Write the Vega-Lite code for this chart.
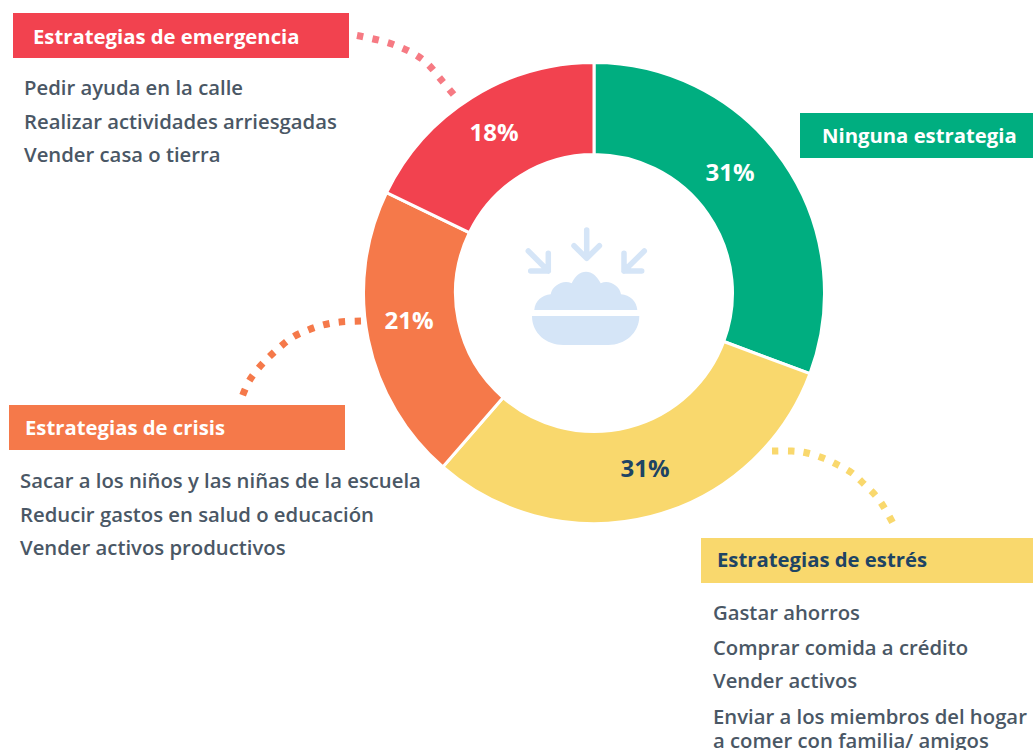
{
  "$schema": "https://vega.github.io/schema/vega-lite/v6.json",
  "width": 1033,
  "height": 750,
  "padding": 0,
  "autosize": {"type": "none"},
  "background": "white",
  "config": {"view": {"stroke": null}},
  "datasets": {
    "sectores": [
      {"grupo": "Ninguna estrategia", "porcentaje": 31, "orden": 1},
      {"grupo": "Estrategias de estrés", "porcentaje": 31, "orden": 2},
      {"grupo": "Estrategias de crisis", "porcentaje": 21, "orden": 3},
      {"grupo": "Estrategias de emergencia", "porcentaje": 18, "orden": 4}
    ],
    "cajas": [
      {"grupo": "Ninguna estrategia", "x": 800, "x2": 1033, "y": 113, "y2": 158},
      {"grupo": "Estrategias de estrés", "x": 701, "x2": 1033, "y": 538, "y2": 583},
      {"grupo": "Estrategias de crisis", "x": 9, "x2": 345, "y": 405, "y2": 450},
      {"grupo": "Estrategias de emergencia", "x": 13, "x2": 349, "y": 13, "y2": 58}
    ],
    "guias": [
      {"grupo": "Estrategias de emergencia", "n": 1, "x": 357, "y": 35.5},
      {"grupo": "Estrategias de emergencia", "n": 2, "x": 392, "y": 44},
      {"grupo": "Estrategias de emergencia", "n": 3, "x": 422, "y": 59},
      {"grupo": "Estrategias de emergencia", "n": 4, "x": 443, "y": 82},
      {"grupo": "Estrategias de emergencia", "n": 5, "x": 458, "y": 100},
      {"grupo": "Estrategias de crisis", "n": 1, "x": 361, "y": 321},
      {"grupo": "Estrategias de crisis", "n": 2, "x": 340, "y": 322},
      {"grupo": "Estrategias de crisis", "n": 3, "x": 323, "y": 325},
      {"grupo": "Estrategias de crisis", "n": 4, "x": 308, "y": 330},
      {"grupo": "Estrategias de crisis", "n": 5, "x": 293, "y": 337},
      {"grupo": "Estrategias de crisis", "n": 6, "x": 280, "y": 347},
      {"grupo": "Estrategias de crisis", "n": 7, "x": 268, "y": 358},
      {"grupo": "Estrategias de crisis", "n": 8, "x": 257, "y": 370},
      {"grupo": "Estrategias de crisis", "n": 9, "x": 248, "y": 383},
      {"grupo": "Estrategias de crisis", "n": 10, "x": 240, "y": 402},
      {"grupo": "Estrategias de estrés", "n": 1, "x": 772, "y": 451},
      {"grupo": "Estrategias de estrés", "n": 2, "x": 792, "y": 451},
      {"grupo": "Estrategias de estrés", "n": 3, "x": 807, "y": 453},
      {"grupo": "Estrategias de estrés", "n": 4, "x": 823, "y": 458},
      {"grupo": "Estrategias de estrés", "n": 5, "x": 838, "y": 465},
      {"grupo": "Estrategias de estrés", "n": 6, "x": 852, "y": 473},
      {"grupo": "Estrategias de estrés", "n": 7, "x": 864, "y": 484},
      {"grupo": "Estrategias de estrés", "n": 8, "x": 876, "y": 496},
      {"grupo": "Estrategias de estrés", "n": 9, "x": 885, "y": 509},
      {"grupo": "Estrategias de estrés", "n": 10, "x": 895, "y": 527}
    ],
    "textos": [
      {"tipo": "valor", "grupo": "Ninguna estrategia", "texto": "31%", "x": 730, "y": 173},
      {"tipo": "valor", "grupo": "Estrategias de estrés", "texto": "31%", "x": 645, "y": 469},
      {"tipo": "valor", "grupo": "Estrategias de crisis", "texto": "21%", "x": 409, "y": 321},
      {"tipo": "valor", "grupo": "Estrategias de emergencia", "texto": "18%", "x": 494, "y": 133},
      {"tipo": "cabecera", "grupo": "Estrategias de emergencia", "texto": "Estrategias de emergencia", "x": 33, "y": 36},
      {"tipo": "cabecera", "grupo": "Ninguna estrategia", "texto": "Ninguna estrategia", "x": 822, "y": 135},
      {"tipo": "cabecera", "grupo": "Estrategias de crisis", "texto": "Estrategias de crisis", "x": 25, "y": 427},
      {"tipo": "cabecera", "grupo": "Estrategias de estrés", "texto": "Estrategias de estrés", "x": 717, "y": 559},
      {"tipo": "detalle", "grupo": "Estrategias de emergencia", "texto": "Pedir ayuda en la calle", "x": 24, "y": 88},
      {"tipo": "detalle", "grupo": "Estrategias de emergencia", "texto": "Realizar actividades arriesgadas", "x": 24, "y": 122},
      {"tipo": "detalle", "grupo": "Estrategias de emergencia", "texto": "Vender casa o tierra", "x": 24, "y": 155},
      {"tipo": "detalle", "grupo": "Estrategias de crisis", "texto": "Sacar a los niños y las niñas de la escuela", "x": 20, "y": 481},
      {"tipo": "detalle", "grupo": "Estrategias de crisis", "texto": "Reducir gastos en salud o educación", "x": 20, "y": 515},
      {"tipo": "detalle", "grupo": "Estrategias de crisis", "texto": "Vender activos productivos", "x": 20, "y": 548},
      {"tipo": "detalle", "grupo": "Estrategias de estrés", "texto": "Gastar ahorros", "x": 713, "y": 613},
      {"tipo": "detalle", "grupo": "Estrategias de estrés", "texto": "Comprar comida a crédito", "x": 713, "y": 648},
      {"tipo": "detalle", "grupo": "Estrategias de estrés", "texto": "Vender activos", "x": 713, "y": 681},
      {"tipo": "detalle", "grupo": "Estrategias de estrés", "texto": "Enviar a los miembros del hogar", "x": 713, "y": 717},
      {"tipo": "detalle", "grupo": "Estrategias de estrés", "texto": "a comer con familia/ amigos", "x": 713, "y": 741}
    ]
  },
  "encoding": {},
  "layer": [
    {
      "data": {"name": "cajas"},
      "mark": {"type": "rect"},
      "encoding": {
        "x": {"field": "x", "type": "quantitative", "axis": null, "scale": {"domain": [0, 1033], "nice": false, "zero": false}},
        "x2": {"field": "x2"},
        "y": {"field": "y", "type": "quantitative", "axis": null, "scale": {"domain": [0, 750], "reverse": true, "nice": false, "zero": false}},
        "y2": {"field": "y2"},
        "color": {"field": "grupo", "type": "nominal", "legend": null, "scale": {"domain": ["Ninguna estrategia", "Estrategias de estrés", "Estrategias de crisis", "Estrategias de emergencia"], "range": ["#00ae80", "#f9d86d", "#f5794a", "#f2424f"]}}
      }
    },
    {
      "data": {"name": "guias"},
      "mark": {"type": "line", "strokeWidth": 7, "strokeDash": [6.5, 9.3], "interpolate": "cardinal"},
      "encoding": {
        "x": {"field": "x", "type": "quantitative"},
        "y": {"field": "y", "type": "quantitative"},
        "order": {"field": "n", "type": "quantitative"},
        "color": {"field": "grupo", "type": "nominal", "legend": null},
        "detail": {"field": "grupo"},
        "opacity": {"condition": {"test": "datum.grupo === 'Estrategias de emergencia'", "value": 0.7}, "value": 1}
      }
    },
    {
      "data": {"name": "sectores"},
      "mark": {"type": "arc", "outerRadius": 230.5, "innerRadius": 138.5, "stroke": "white", "strokeWidth": 3},
      "encoding": {
        "x": {"datum": 594, "type": "quantitative"},
        "y": {"datum": 293, "type": "quantitative"},
        "theta": {"field": "porcentaje", "type": "quantitative", "stack": true},
        "order": {"field": "orden", "type": "quantitative"},
        "color": {"field": "grupo", "type": "nominal", "legend": null}
      }
    },
    {
      "data": {"values": [{"pieza": "arroz"}]},
      "mark": {"type": "point", "filled": true, "opacity": 1, "size": 4, "color": "#d5e5f7",
        "shape": "M534.3 310C535 301 542 295 550.7 294.3C552 286 563 279 571.7 283.3C575 276 580 271.7 586 271.7C592 271.7 597 276 600.7 283.3C609 279 620 286 621 294.3C630 295 636.5 301 637.3 310ZM532 316H639.3C639.3 333 625 345 608.3 345H563.3C546 345 532 333 532 316Z"},
      "encoding": {
        "x": {"datum": 0, "type": "quantitative"},
        "y": {"datum": 0, "type": "quantitative"}
      }
    },
    {
      "data": {"values": [{"pieza": "flechas"}]},
      "mark": {"type": "point", "filled": false, "opacity": 1, "size": 4, "stroke": "#d5e5f7", "strokeWidth": 5.5, "strokeCap": "round", "strokeJoin": "round",
        "shape": "M586.7 230V258.3M574 245.7L586.7 258.3L599.4 245.7M528.3 251L548.3 271M548.3 253.3V271H530.7M644.3 251L624 271M624 253.3V271H641.7"},
      "encoding": {
        "x": {"datum": 0, "type": "quantitative"},
        "y": {"datum": 0, "type": "quantitative"}
      }
    },
    {
      "data": {"name": "textos"},
      "transform": [{"filter": "datum.tipo === 'valor'"}],
      "mark": {"type": "text", "font": "Open Sans", "fontWeight": 700, "fontSize": 24, "align": "center", "baseline": "middle", "dy": 1},
      "encoding": {
        "x": {"field": "x", "type": "quantitative"},
        "y": {"field": "y", "type": "quantitative"},
        "text": {"field": "texto"},
        "color": {"condition": {"test": "datum.grupo === 'Estrategias de estrés'", "value": "#1e4464"}, "value": "white"}
      }
    },
    {
      "data": {"name": "textos"},
      "transform": [{"filter": "datum.tipo === 'cabecera'"}],
      "mark": {"type": "text", "font": "Open Sans", "fontWeight": 700, "fontSize": 20.3, "align": "left", "baseline": "middle", "dy": 2},
      "encoding": {
        "x": {"field": "x", "type": "quantitative"},
        "y": {"field": "y", "type": "quantitative"},
        "text": {"field": "texto"},
        "color": {"condition": {"test": "datum.grupo === 'Estrategias de estrés'", "value": "#1e4464"}, "value": "white"}
      }
    },
    {
      "data": {"name": "textos"},
      "transform": [{"filter": "datum.tipo === 'detalle'"}],
      "mark": {"type": "text", "font": "Open Sans", "fontWeight": 600, "fontSize": 20.3, "align": "left", "baseline": "middle", "dy": 1, "color": "#4a5765"},
      "encoding": {
        "x": {"field": "x", "type": "quantitative"},
        "y": {"field": "y", "type": "quantitative"},
        "text": {"field": "texto"}
      }
    }
  ]
}
